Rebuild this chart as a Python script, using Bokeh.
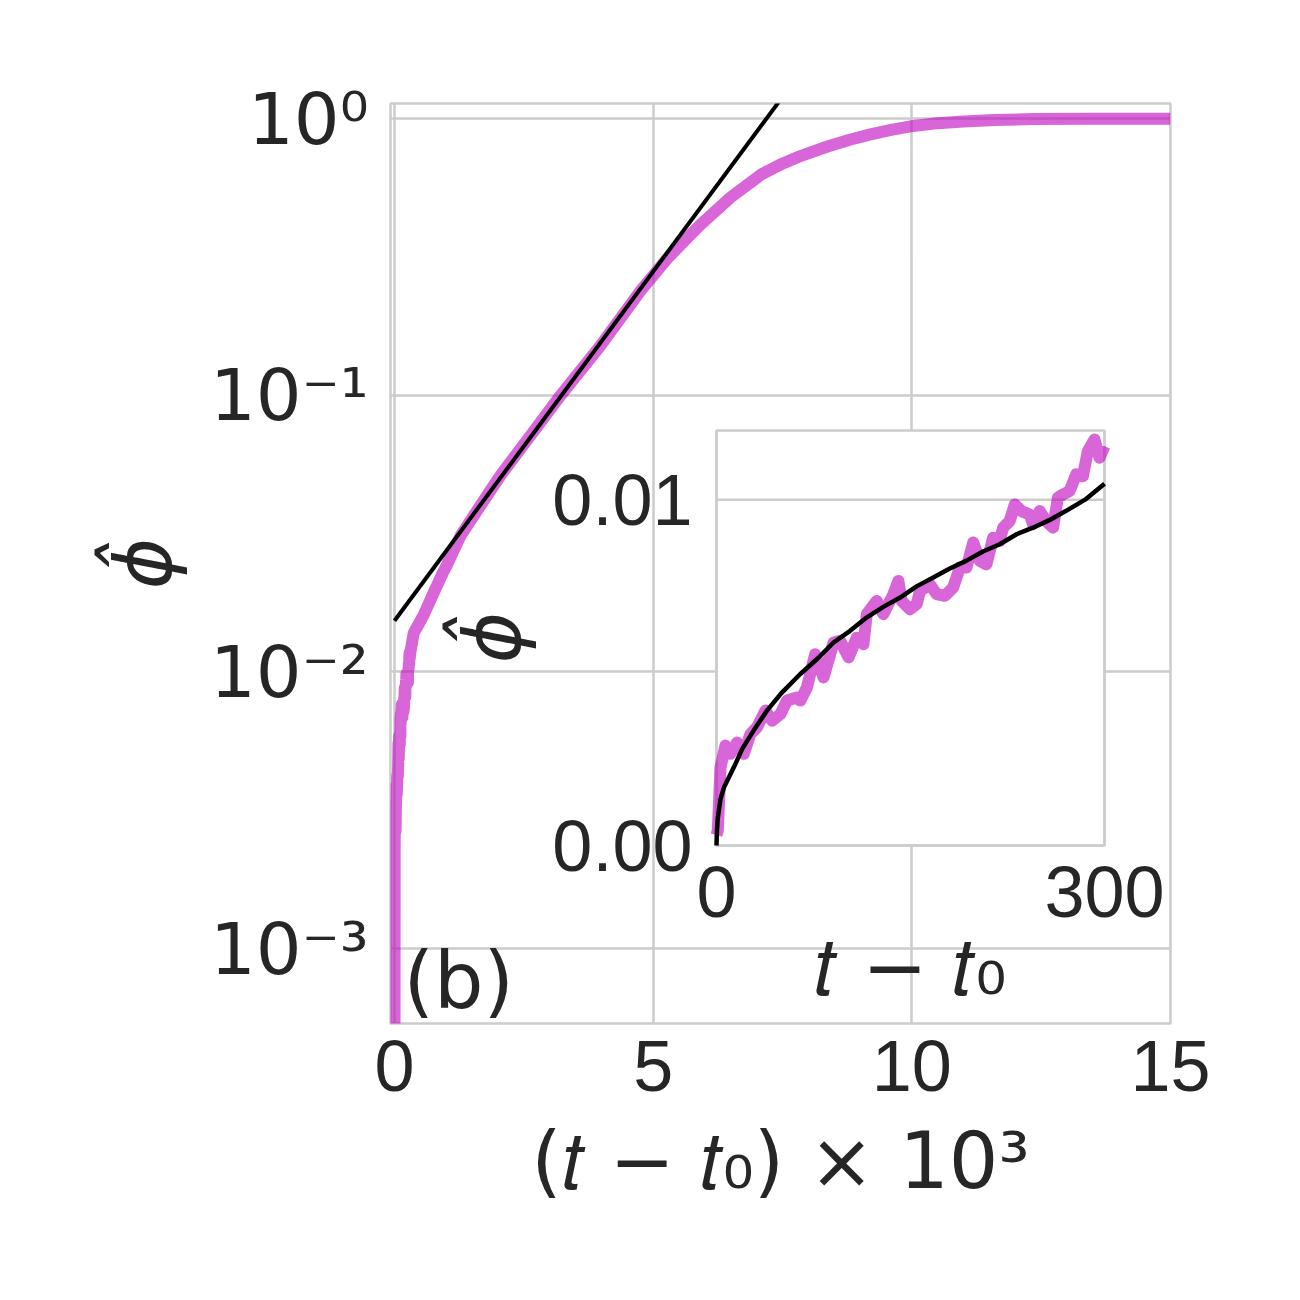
import math
from bokeh.plotting import figure
from bokeh.models import Range1d, LinearScale, FixedTicker, CustomJSTickFormatter, Label
from bokeh.embed import file_html
from bokeh.resources import INLINE
from bokeh.core.properties import value

# ---------------- data ----------------
# early part of the run, t - t0 in [0, 300] (shown in the inset)
t_early = [0.0, 1.0, 3.1, 6.9, 10.8, 15.9, 21.1, 26.2, 31.4, 37.8, 43.0, 49.4, 54.5,
           62.2, 64.8, 69.9, 76.3, 82.8, 90.5, 95.6, 102.1, 108.5, 113.6, 116.2,
           123.9, 129.0, 136.8, 140.6, 143.2, 149.6, 154.8, 157.3, 165.0, 170.2,
           176.6, 183.0, 188.2, 193.3, 198.5, 203.6, 208.7, 213.9, 219.0, 221.6,
           226.7, 230.6, 235.7, 242.2, 244.7, 249.9, 255.0, 260.2, 264.0, 267.9,
           273.0, 278.1, 283.3, 287.1, 292.3, 296.1, 300.0]
phi_early = [0.0003, 0.00043, 0.00226, 0.00289, 0.00265, 0.00298, 0.00265, 0.00322,
             0.00342, 0.00390, 0.00361, 0.00380, 0.00419, 0.00428, 0.00419, 0.00457,
             0.00553, 0.00486, 0.00587, 0.00592, 0.00544, 0.00601, 0.00582, 0.00669,
             0.00707, 0.00669, 0.00727, 0.00765, 0.00707, 0.00683, 0.00698, 0.00736,
             0.00755, 0.00727, 0.00722, 0.00746, 0.00804, 0.00804, 0.00876, 0.00823,
             0.00813, 0.00890, 0.00881, 0.00919, 0.00938, 0.00986, 0.00967, 0.00957,
             0.00929, 0.00967, 0.00938, 0.00919, 0.01006, 0.01015, 0.01025, 0.01073,
             0.01068, 0.01140, 0.01174, 0.01121, 0.01155]
# later part of the run, t - t0 > 300
t_late = [370, 560, 750, 930, 1020, 1280, 1660, 2050, 2630, 3210, 3980, 4760, 5300,
          5900, 6500, 7100, 7450, 7790, 8370, 8800, 9200, 9600, 10030, 10500, 11000,
          11600, 12350, 13500, 15000]
phi_late = [0.0138, 0.016, 0.0192, 0.0227, 0.0245, 0.0311, 0.0399, 0.0513, 0.0715,
            0.0998, 0.151, 0.239, 0.316, 0.411, 0.519, 0.630, 0.680, 0.725, 0.792,
            0.838, 0.876, 0.909, 0.940, 0.962, 0.975, 0.987, 0.995, 0.997, 0.997]
time_scale = 1000.0   # main x axis is (t - t0) / 10^3

# exponential fit (straight on the log axis), x in units of 10^3
fit_exp_x = [0.0, 8.0]
fit_exp_y = [0.0153, 1.60]
# early-time fit shown in the inset
fit_early_t = [0.0, 0.3, 1.0, 3.1, 6.0, 13.4, 20.0, 30.0, 39.0, 50.0, 64.8, 78.0,
               90.5, 103.0, 116.0, 129.0, 142.0, 155.0, 167.6, 180.0, 193.0, 206.0,
               219.0, 232.0, 244.7, 257.0, 270.0, 285.0, 300.0]
fit_early_phi = [0.0, 0.0004, 0.0008, 0.00135, 0.0017, 0.00226, 0.0028, 0.0034,
                 0.0039, 0.0044, 0.00496, 0.0054, 0.00587, 0.0062, 0.00659, 0.0069,
                 0.00717, 0.0075, 0.00775, 0.0080, 0.00823, 0.0085, 0.00871, 0.0090,
                 0.00919, 0.0094, 0.00967, 0.0100, 0.01046]

x_ticks = [0, 5, 10, 15]
y_tick_values = [1e-3, 1e-2, 1e-1, 1.0]
y_tick_labels = ["10\u207b\u00b3", "10\u207b\u00b2", "10\u207b\u00b9", "10\u2070"]
inset_xlim = [0.0, 300.0]
inset_ylim = [0.0, 0.012]
inset_x_ticks = [0.0, 300.0]
inset_x_labels = ["0", "300"]
inset_y_ticks = [0.0, 0.01]
inset_y_labels = ["0.00", "0.01"]

main_xlabel = "(\U0001D461 \u2212 \U0001D461\u2080) \u00d7 10\u00b3"
main_ylabel = "\u03d5\u0302"
inset_xlabel = "\U0001D461 \u2212 \U0001D461\u2080"
inset_ylabel = "\u03d5\u0302"
panel_tag = "(b)"

# ---------------- layout constants (page pixels) ----------------
W, H = 1280, 1280
FL, FR, FT, FB = 390, 1170, 103, 1023      # main frame
IL, IR, IT, IB = 716, 1104, 430, 845       # inset frame
XMIN, XMAX = -0.0773, 15.0
YMIN, YMAX = 5.36e-4, 1.133

TEXT = "#262626"
GRID = "#cccccc"
MAG = "#bf00bf"

def main_x_of(px):
    return XMIN + (px - FL) * (XMAX - XMIN) / (FR - FL)

def main_y_of(py):
    la, lb = math.log10(YMAX), math.log10(YMIN)
    return 10 ** (la - (py - FT) * (la - lb) / (FB - FT))

sx = (inset_xlim[1] - inset_xlim[0]) / (IR - IL)
sy = (inset_ylim[1] - inset_ylim[0]) / (IB - IT)

def inset_x_of(px):
    return inset_xlim[0] + (px - IL) * sx

def inset_y_of(py):
    return inset_ylim[0] + (IB - py) * sy

p = figure(width=W, height=H, output_backend="svg", toolbar_location=None, title=None,
           x_range=Range1d(XMIN, XMAX), y_range=Range1d(YMIN, YMAX), y_axis_type="log",
           min_border_left=FL, min_border_right=W - FR,
           min_border_top=FT, min_border_bottom=H - FB)
p.background_fill_color = "white"
p.border_fill_color = "white"
p.outline_line_color = GRID
p.outline_line_width = 2.5

p.xaxis.ticker = FixedTicker(ticks=x_ticks)
p.yaxis.ticker = FixedTicker(ticks=y_tick_values)
p.yaxis.formatter = CustomJSTickFormatter(
    args=dict(vals=y_tick_values, labs=y_tick_labels),
    code="""
    let best = 0;
    const lt = Math.log10(tick);
    for (let i = 0; i < vals.length; i++) {
        if (Math.abs(Math.log10(vals[i]) - lt) < Math.abs(Math.log10(vals[best]) - lt)) best = i;
    }
    return labs[best];
    """)
for ax in (p.xaxis[0], p.yaxis[0]):
    ax.axis_line_color = None
    ax.major_tick_line_color = None
    ax.minor_tick_line_color = None
    ax.major_tick_out = 0
    ax.major_tick_in = 0
    ax.minor_tick_out = 0
    ax.minor_tick_in = 0
    ax.major_label_text_color = TEXT
    ax.major_label_text_font_size = "72px"
    ax.axis_label_text_color = TEXT
    ax.axis_label_text_font = "DejaVu Sans"
    ax.axis_label_text_font_size = "78px"
p.xaxis.major_label_text_font = "Liberation Sans"
p.xaxis.major_label_standoff = 17
p.xaxis.axis_label = main_xlabel
p.xaxis.axis_label_standoff = 22
p.xaxis.axis_label_text_font_style = "normal"
p.yaxis.major_label_text_font = "DejaVu Sans"
p.yaxis.major_label_standoff = 22
p.yaxis.axis_label = main_ylabel
p.yaxis.axis_label_standoff = 18
p.yaxis.axis_label_text_font_style = "italic"

p.grid.grid_line_color = GRID
p.grid.grid_line_width = 2.5
p.grid.minor_grid_line_color = None

# ---------------- main curves ----------------
x_main = [t / time_scale for t in t_early + t_late]
phi_main = phi_early + phi_late
p.line(x_main, phi_main, line_color=MAG, line_alpha=0.6, line_width=12, line_join="round")
p.line(fit_exp_x, fit_exp_y, line_color="black", line_width=4)

# ---------------- inset ----------------
p.extra_x_ranges = {"inset": Range1d(inset_x_of(FL), inset_x_of(FR))}
p.extra_y_ranges = {"inset": Range1d(inset_y_of(FB), inset_y_of(FT))}
p.extra_x_scales = {"inset": LinearScale()}
p.extra_y_scales = {"inset": LinearScale()}
kw = dict(x_range_name="inset", y_range_name="inset")

p.quad(left=inset_xlim[0], right=inset_xlim[1], bottom=inset_ylim[0], top=inset_ylim[1],
       fill_color="white", line_color=GRID, line_width=2.5, **kw)
p.segment(x0=[inset_xlim[0]] * len(inset_y_ticks), x1=[inset_xlim[1]] * len(inset_y_ticks),
          y0=inset_y_ticks, y1=inset_y_ticks, line_color=GRID, line_width=2.5, **kw)
p.segment(x0=inset_x_ticks, x1=inset_x_ticks,
          y0=[inset_ylim[0]] * len(inset_x_ticks), y1=[inset_ylim[1]] * len(inset_x_ticks),
          line_color=GRID, line_width=2.5, **kw)
p.line(t_early, phi_early, line_color=MAG, line_alpha=0.6, line_width=12, line_join="round", **kw)
p.line(fit_early_t, fit_early_phi, line_color="black", line_width=4.5, line_join="round", **kw)

# inset tick labels (vertically centred on their visual centre line)
p.text(x=inset_x_ticks, y=[inset_y_of(891)] * len(inset_x_ticks), text=inset_x_labels,
       text_align="center", text_baseline="middle", text_color=TEXT,
       text_font=value("Liberation Sans"), text_font_size=value("72px"), **kw)
p.text(x=[inset_x_of(692)] * len(inset_y_ticks), y=inset_y_ticks, text=inset_y_labels,
       text_align="right", text_baseline="middle", text_color=TEXT,
       text_font=value("Liberation Sans"), text_font_size=value("72px"), **kw)

# inset axis labels
p.add_layout(Label(x=inset_x_of(910), y=inset_y_of(966), text=inset_xlabel,
                   text_align="center", text_baseline="middle", text_color=TEXT,
                   text_font="DejaVu Sans", text_font_size="78px", **kw))
p.add_layout(Label(x=inset_x_of(492), y=inset_y_of(637), text=inset_ylabel, angle=math.pi / 2,
                   text_align="center", text_baseline="middle", text_color=TEXT,
                   text_font="DejaVu Sans", text_font_style="italic", text_font_size="78px", **kw))

# panel tag
p.add_layout(Label(x=main_x_of(403), y=main_y_of(980), text=panel_tag,
                   text_align="left", text_baseline="middle", text_color=TEXT,
                   text_font="DejaVu Sans", text_font_size="78px"))

open("out.html", "w").write(file_html(p, INLINE))
